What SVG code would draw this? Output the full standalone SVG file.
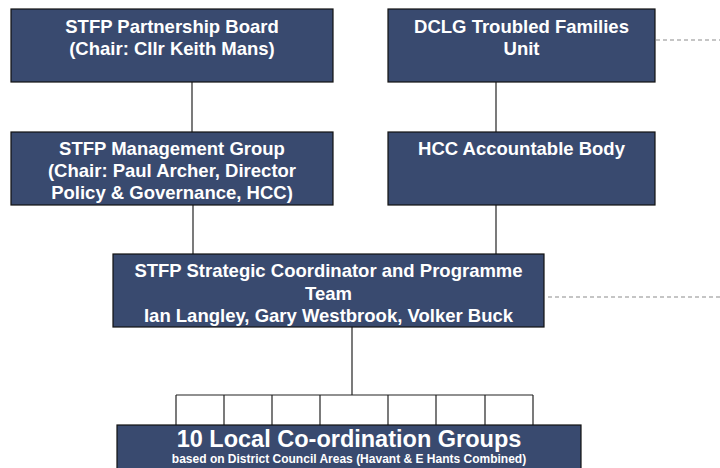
<svg xmlns="http://www.w3.org/2000/svg" width="720" height="468" viewBox="0 0 720 468">
<style>
.box{fill:#394a6f;stroke:#111;stroke-width:1.2}
.t{font-family:"Liberation Sans",Arial,sans-serif;font-weight:bold;fill:#fff;text-anchor:middle;font-size:18.5px}
.ln{stroke:#222;stroke-width:1.2;fill:none}
.dash{stroke:#8c8c8c;stroke-width:1.2;stroke-dasharray:4 3;fill:none}
</style>
<rect width="720" height="468" fill="#fff"/>
<g id="connectors">
<line class="ln" x1="192" y1="82" x2="192" y2="132"/>
<line class="ln" x1="496" y1="82" x2="496" y2="132"/>
<line class="ln" x1="193" y1="205" x2="193" y2="254"/>
<line class="ln" x1="496" y1="205" x2="496" y2="254"/>
<line class="ln" x1="352" y1="327" x2="352" y2="395"/>
<line class="ln" x1="176" y1="395" x2="533" y2="395"/>
<line class="ln" x1="176" y1="395" x2="176" y2="425"/>
<line class="ln" x1="224" y1="395" x2="224" y2="425"/>
<line class="ln" x1="272" y1="395" x2="272" y2="425"/>
<line class="ln" x1="320" y1="395" x2="320" y2="425"/>
<line class="ln" x1="388" y1="395" x2="388" y2="425"/>
<line class="ln" x1="436" y1="395" x2="436" y2="425"/>
<line class="ln" x1="485" y1="395" x2="485" y2="425"/>
<line class="ln" x1="533" y1="395" x2="533" y2="425"/>
<line class="dash" x1="656" y1="40" x2="720" y2="40"/>
<line class="dash" x1="548" y1="297" x2="720" y2="297"/>
</g>
<g id="board">
<rect class="box" x="11" y="9" width="322" height="73"/>
<text class="t" x="172" y="33">STFP Partnership Board</text>
<text class="t" x="172" y="55">(Chair: Cllr Keith Mans)</text>
</g>
<g id="dclg">
<rect class="box" x="388" y="9" width="267" height="73"/>
<text class="t" x="521.5" y="33">DCLG Troubled Families</text>
<text class="t" x="521.5" y="55">Unit</text>
</g>
<g id="management">
<rect class="box" x="11" y="132" width="322" height="73"/>
<text class="t" x="172" y="155">STFP Management Group</text>
<text class="t" x="172" y="177">(Chair: Paul Archer, Director</text>
<text class="t" x="172" y="199">Policy &amp; Governance, HCC)</text>
</g>
<g id="hcc">
<rect class="box" x="388" y="132" width="267" height="73"/>
<text class="t" x="521.5" y="155">HCC Accountable Body</text>
</g>
<g id="coordinator">
<rect class="box" x="113" y="254" width="431" height="73"/>
<text class="t" x="328.5" y="277">STFP Strategic Coordinator and Programme</text>
<text class="t" x="328.5" y="300">Team</text>
<text class="t" x="328.5" y="322">Ian Langley, Gary Westbrook, Volker Buck</text>
</g>
<g id="local">
<rect class="box" x="117" y="425" width="464" height="50"/>
<text class="t" x="349" y="446.5" style="font-size:23.5px">10 Local Co-ordination Groups</text>
<text class="t" x="349" y="463" style="font-size:12px">based on District Council Areas (Havant &amp; E Hants Combined)</text>
</g>
</svg>
